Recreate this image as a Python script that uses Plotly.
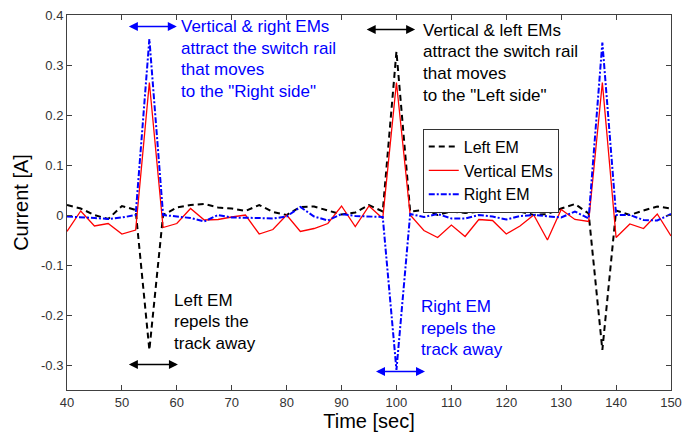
import plotly.graph_objects as go

time_sec = [40, 42.5, 45, 47.5, 50, 52.5, 55, 57.5, 60, 62.5, 65, 67.5, 70, 72.5, 75,
            77.5, 80, 82.5, 85, 87.5, 90, 92.5, 95, 97.5, 100, 102.5, 105, 107.5, 110,
            112.5, 115, 117.5, 120, 122.5, 125, 127.5, 130, 132.5, 135, 137.5, 140,
            142.5, 145, 147.5, 150]

left_em = [0.020, 0.013, 0.000, -0.008, 0.018, 0.010, -0.270, 0.000, 0.015, 0.020,
           0.022, 0.015, 0.013, 0.008, 0.020, 0.006, 0.000, 0.016, 0.017, 0.009,
           0.001, 0.005, 0.020, 0.007, 0.327, 0.007, 0.010, 0.000, 0.007, 0.004,
           0.007, 0.009, 0.017, 0.007, 0.000, 0.002, 0.013, 0.022, 0.003, -0.270,
           0.009, 0.000, 0.009, 0.017, 0.013]

vertical_ems = [-0.033, 0.008, -0.022, -0.017, -0.038, -0.030, 0.265, -0.025, -0.017, 0.013,
                -0.010, -0.009, -0.004, 0.000, -0.038, -0.029, 0.000, -0.033, -0.027, -0.017,
                0.018, -0.023, 0.018, -0.007, 0.265, 0.000, -0.031, -0.045, -0.020, -0.043,
                -0.009, -0.011, -0.038, -0.022, 0.000, -0.050, 0.011, -0.009, -0.013, 0.265,
                -0.045, -0.018, -0.027, 0.002, -0.042]

right_em = [-0.003, -0.004, -0.006, -0.008, -0.005, 0.000, 0.352, 0.000, -0.003, -0.006,
            -0.013, 0.000, -0.005, -0.005, -0.006, -0.007, -0.003, 0.016, -0.003, -0.011,
            0.002, -0.002, -0.003, -0.004, -0.310, 0.002, -0.004, 0.002, -0.007, -0.007,
            0.000, -0.003, -0.009, -0.002, 0.000, -0.002, -0.005, 0.007, -0.007, 0.345,
            0.000, 0.000, -0.010, -0.011, 0.002]

y_tickvals = [-0.3, -0.2, -0.1, 0, 0.1, 0.2, 0.3, 0.4]
y_ticktext = ["-0.3", "-0.2", "-0.1", "0", "0.1", "0.2", "0.3", "0.4"]
x_tickvals = [40, 50, 60, 70, 80, 90, 100, 110, 120, 130, 140, 150]

# annotation texts: (lines, x, y of first line, color)
notes = [
    (["Vertical &amp; right EMs", "attract the switch rail", "that moves", "to the \"Right side\""],
     60.4, 0.377, "#0000FF"),
    (["Vertical &amp; left EMs", "attract the switch rail", "that moves", "to the \"Left side\""],
     104.4, 0.370, "#000000"),
    (["Left EM", "repels the", "track away"], 59.2, -0.170, "#000000"),
    (["Right EM", "repels the", "track away"], 104.1, -0.183, "#0000FF"),
]
LINE_STEP = 0.0434  # vertical distance between text lines, in data units

# double arrows: (x_start, x_end, y, color)
arrows = [
    (51.0, 60.0, 0.377, "#0000FF"),
    (94.3, 103.4, 0.371, "#000000"),
    (51.0, 60.2, -0.299, "#000000"),
    (96.0, 105.2, -0.313, "#0000FF"),
]

FONT = "Liberation Sans, Arial, sans-serif"

fig = go.Figure()
fig.add_trace(go.Scatter(x=time_sec, y=left_em, mode="lines", name="Left EM",
                         line=dict(color="black", width=2, dash="6px,4px")))
fig.add_trace(go.Scatter(x=time_sec, y=vertical_ems, mode="lines", name="Vertical EMs",
                         line=dict(color="#FF0000", width=1.3)))
fig.add_trace(go.Scatter(x=time_sec, y=right_em, mode="lines", name="Right EM",
                         line=dict(color="#0000FF", width=2, dash="6px,2px,2px,2px")))

for lines, x, y0, color in notes:
    for i, line in enumerate(lines):
        fig.add_annotation(x=x, y=y0 - i * LINE_STEP, xref="x", yref="y", text=line,
                           showarrow=False, xanchor="left", yanchor="middle", align="left",
                           font=dict(family=FONT, size=17, color=color))

for x0, x1, y, color in arrows:
    fig.add_annotation(x=x1, y=y, ax=x0, ay=y, xref="x", yref="y", axref="x", ayref="y",
                       text="", showarrow=True, arrowside="end+start", arrowhead=2,
                       arrowsize=1.2, arrowwidth=1.5, arrowcolor=color,
                       standoff=0, startstandoff=0)

axis_common = dict(showline=True, linecolor="#404040", linewidth=1, mirror="ticks",
                   ticks="inside", ticklen=5, tickcolor="#404040", showgrid=False,
                   zeroline=False, automargin=False,
                   tickfont=dict(family=FONT, size=13, color="#333333"))

fig.update_xaxes(range=[40, 150], tickvals=x_tickvals,
                 title=dict(text="Time [sec]", font=dict(family=FONT, size=20, color="black"),
                            standoff=2),
                 **axis_common)
fig.update_yaxes(range=[-0.35, 0.4], tickvals=y_tickvals, ticktext=y_ticktext,
                 title=dict(text="Current [A]", font=dict(family=FONT, size=20, color="black"),
                            standoff=6),
                 **axis_common)

fig.update_layout(
    width=694, height=437,
    margin=dict(l=67, r=23, t=15, b=47),
    paper_bgcolor="white", plot_bgcolor="white",
    showlegend=True,
    legend=dict(x=0.589, y=0.697, xanchor="left", yanchor="top",
                bgcolor="white", bordercolor="#333333", borderwidth=1,
                font=dict(family=FONT, size=16, color="black"),
                tracegroupgap=0, itemwidth=30),
)

fig.write_html("out.html", config={"displayModeBar": False},
               post_script="document.body.style.margin='0';document.body.style.overflow='hidden';")
